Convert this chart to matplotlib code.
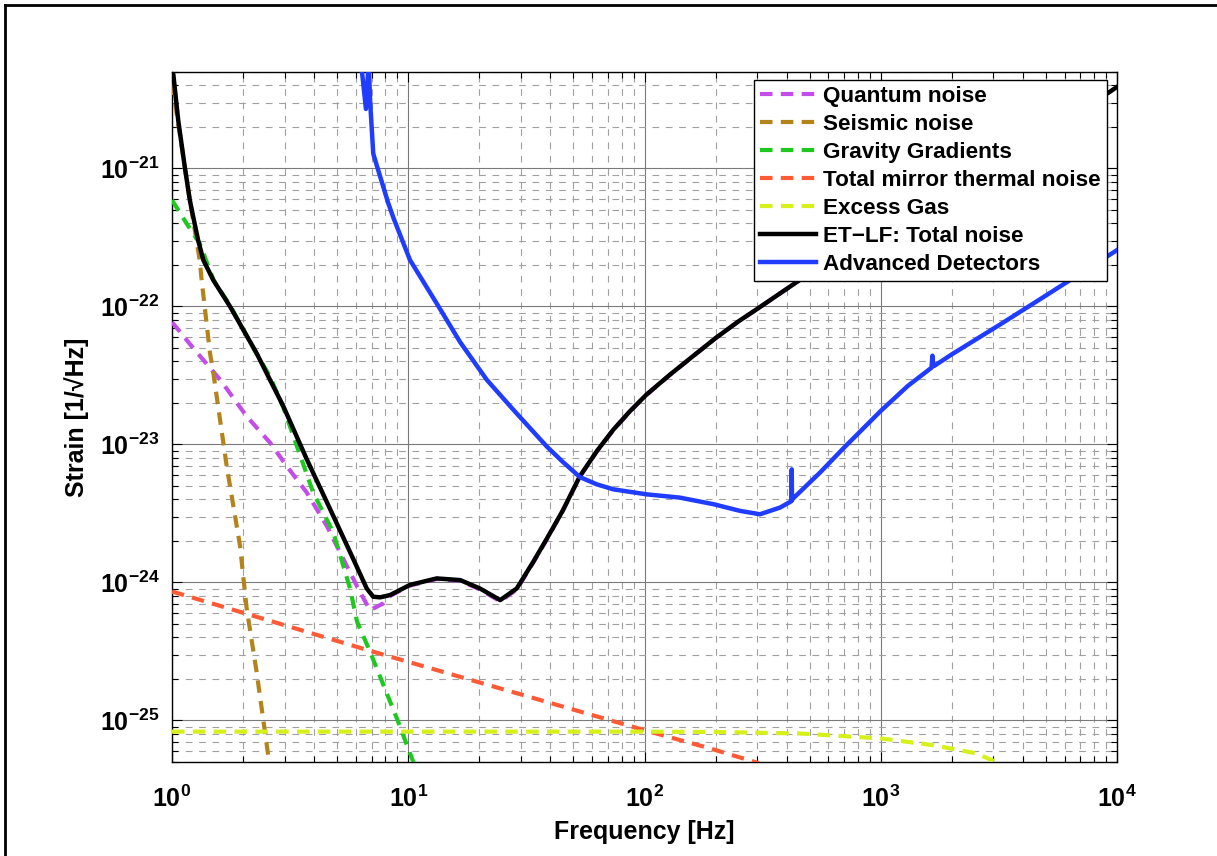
import matplotlib
matplotlib.use("Agg")
import matplotlib.pyplot as plt
from matplotlib.ticker import FixedLocator, FuncFormatter, NullFormatter
from matplotlib.lines import Line2D
import numpy as np

plt.rcParams['font.family'] = ['Liberation Sans', 'DejaVu Sans']
plt.rcParams['font.weight'] = 'bold'
plt.rcParams['mathtext.fontset'] = 'custom'
plt.rcParams['mathtext.rm'] = 'Liberation Sans:bold'
plt.rcParams['mathtext.bf'] = 'Liberation Sans:bold'
plt.rcParams['mathtext.it'] = 'Liberation Sans:bold'

# ---- data ----
total_f = [1.0, 1.013, 1.063, 1.135, 1.19, 1.23, 1.29, 1.357, 1.496, 1.76, 2.28, 2.96, 3.72,
           4.67, 5.85, 6.67, 7.11, 7.6, 8.37,
           10.17, 13.2, 16.6, 20.1, 24.5, 28.8, 33.8, 38.5, 45, 53.3, 63, 73.8, 87, 102, 128,
           160, 200, 250, 300, 500, 1000, 3000, 9340, 10000]
total_h = [5.0e-21, 4.8e-21, 2.22e-21, 1.0e-21, 5.88e-22, 4.46e-22, 3.02e-22, 2.17e-22, 1.55e-22,
           1.0e-22, 4.59e-23, 1.89e-23, 7.8e-24,
           3.4e-24, 1.48e-24, 9.05e-25, 7.88e-25, 7.8e-25, 8.1e-25,
           9.6e-25, 1.07e-24, 1.04e-24, 9.05e-25, 7.45e-25, 9.05e-25, 1.41e-24, 2.06e-24, 3.3e-24,
           5.9e-24, 9.0e-24, 1.28e-23, 1.75e-23, 2.3e-23, 3.2e-23,
           4.35e-23, 5.9e-23, 7.8e-23, 9.6e-23, 1.74e-22, 3.6e-22, 1.1e-21, 3.6e-21, 3.9e-21]

quantum_f = [1.0, 1.23, 1.6, 2.07, 2.6, 3.06, 3.72, 4.52, 5.49, 6.25, 6.89, 7.84, 8.4,
             10.17, 13.2, 16.6, 20.1, 24.5, 28.8, 33.8, 38.5, 45, 53.3, 63, 73.8, 87, 102, 128,
             160, 200, 250, 300, 500, 1000, 3000, 9340, 10000]
quantum_h = [7.7e-23, 4.99e-23, 2.94e-23, 1.6e-23, 1.03e-23, 6.97e-24, 4.48e-24, 2.57e-24, 1.32e-24,
             8.5e-25, 6.3e-25, 7.05e-25, 8.0e-25,
             9.5e-25, 1.06e-24, 1.03e-24, 8.9e-25, 7.3e-25, 8.9e-25, 1.39e-24, 2.04e-24, 3.28e-24,
             5.85e-24, 8.95e-24, 1.27e-23, 1.74e-23, 2.29e-23, 3.19e-23,
             4.34e-23, 5.89e-23, 7.79e-23, 9.59e-23, 1.74e-22, 3.6e-22, 1.1e-21, 3.6e-21, 3.9e-21]

seismic_f = [1.0, 1.19, 1.31, 1.335, 1.448, 1.496, 1.704, 1.94, 2.07, 2.28, 2.557]
seismic_h = [4.2e-21, 5.88e-22, 2.17e-22, 1.55e-22, 4.6e-23, 3.3e-23, 6.97e-24, 1.85e-24,
             6.5e-25, 2.26e-25, 5.5e-26]

gravity_f = [1.0, 1.154, 1.31, 1.5, 1.76, 2.28, 2.6, 2.96, 3.96, 4.82, 5.67, 6.07, 6.88, 8.96, 10.6]
gravity_h = [5.9e-22, 3.98e-22, 2.86e-22, 1.55e-22, 1.02e-22, 4.55e-23, 3.1e-23, 1.85e-23,
             4.48e-24, 2.3e-24, 9.05e-25, 5.2e-25, 3.17e-25, 1.03e-25, 4.8e-26]

thermal_f = [1.0, 6.88, 100, 189, 305]
thermal_h = [8.6e-25, 3.2e-25, 8.5e-26, 6.28e-26, 4.9e-26]

gas_f = [1.0, 100, 200, 455, 1000, 1668, 2547, 3150]
gas_h = [8.3e-26, 8.3e-26, 8.25e-26, 8.05e-26, 7.41e-26, 6.62e-26, 5.77e-26, 4.9e-26]

adv_f = [6.3, 6.62, 6.8, 6.9, 7.11, 7.36, 8.23, 8.65, 10.17, 13.2, 16.6, 21.5, 27.8, 38.5, 45,
         53.3, 62.8, 73.8, 102, 141, 196, 254, 308, 375, 415, 419, 420, 421, 425, 553, 700, 1000,
         1300, 1640, 1655, 1665, 1680, 2000, 3200, 5000, 10000]
adv_h = [6e-21, 2.7e-21, 6e-21, 3.0e-21, 1.28e-21, 1.05e-21, 5.6e-22, 4.4e-22, 2.17e-22, 1.05e-22,
         5.5e-23, 2.94e-23, 1.79e-23, 9.7e-24, 7.5e-24,
         5.8e-24, 5.14e-24, 4.73e-24, 4.35e-24, 4.12e-24, 3.69e-24, 3.3e-24, 3.12e-24, 3.49e-24,
         3.85e-24, 3.9e-24, 6.6e-24, 3.95e-24, 4.05e-24, 6.25e-24, 9.5e-24, 1.75e-23,
         2.65e-23, 3.6e-23, 4.4e-23, 3.7e-23, 3.7e-23, 4.5e-23, 7.4e-23, 1.2e-22, 2.56e-22]

labels = ["Quantum noise", "Seismic noise", "Gravity Gradients", "Total mirror thermal noise",
          "Excess Gas", "ET\u2212LF: Total noise", "Advanced Detectors"]
colors = ["#c24de8", "#b3831c", "#1ec81e", "#ff5a36", "#d6f01a", "#000000", "#1f3cff"]

x_major = [1, 10, 100, 1000, 10000]
y_major = [1e-25, 1e-24, 1e-23, 1e-22, 1e-21]
xlim = (1, 1e4)
ylim = (5e-26, 5e-21)

fig = plt.figure(figsize=(12.17, 8.56), dpi=100)
ax = fig.add_axes([172/1217, 1-762/856, (1117-172)/1217, (762-72)/856])

dash = (3, 2)
lw = 3.0
series = [(quantum_f, quantum_h), (seismic_f, seismic_h), (gravity_f, gravity_h),
          (thermal_f, thermal_h), (gas_f, gas_h)]
handles = []
for (f, h), lab, c in zip(series, labels[:5], colors[:5]):
    ln, = ax.plot(f, h, color=c, lw=lw, dashes=dash, label=lab, zorder=3)
    handles.append(ln)
ln, = ax.plot(total_f, total_h, color=colors[5], lw=3.2, label=labels[5], zorder=4)
handles.append(ln)
ln, = ax.plot(adv_f, adv_h, color=colors[6], lw=3.2, label=labels[6], zorder=4)
handles.append(ln)

ax.set_xscale('log')
ax.set_yscale('log')
ax.set_xlim(*xlim)
ax.set_ylim(*ylim)

x_minor = [m * d for d in x_major[:-1] for m in range(2, 10)]
y_minor = [m * d for d in [1e-26] + y_major for m in range(2, 10) if ylim[0] <= m * d <= ylim[1]]
ax.xaxis.set_major_locator(FixedLocator(x_major))
ax.yaxis.set_major_locator(FixedLocator(y_major))
ax.xaxis.set_minor_locator(FixedLocator(x_minor))
ax.yaxis.set_minor_locator(FixedLocator(y_minor))
fmt = FuncFormatter(lambda v, p: r'$\mathbf{10^{%d}}$' % int(round(np.log10(v))))
ax.xaxis.set_major_formatter(fmt)
ax.yaxis.set_major_formatter(fmt)
ax.xaxis.set_minor_formatter(NullFormatter())
ax.yaxis.set_minor_formatter(NullFormatter())

ax.grid(True, which='major', color='#7a7a7a', lw=0.8, ls='-', zorder=0)
ax.grid(True, which='minor', color='#a0a0a0', lw=0.8, dashes=(6, 6), zorder=0)
ax.set_axisbelow(True)
ax.tick_params(which='both', direction='in', top=True, right=True, labelsize=18)
ax.tick_params(axis='x', which='major', pad=17)
ax.tick_params(axis='y', which='major', pad=9)
ax.tick_params(which='major', length=7, width=0.8)
ax.tick_params(which='minor', length=4, width=0.8)
for s in ax.spines.values():
    s.set_linewidth(1.0)

ax.set_xlabel("Frequency [Hz]", fontsize=18, fontweight='bold', labelpad=6)
ax.set_ylabel("Strain [1/\u221aHz]", fontsize=18, fontweight='bold', labelpad=8)

leg = ax.legend(handles=handles, loc='upper right',
                bbox_to_anchor=((1107-172)/(1117-172), (762-80)/(762-72)),
                fontsize=16.2, frameon=True, fancybox=False, edgecolor='black', framealpha=1,
                handlelength=2.5, handletextpad=0.3, labelspacing=0.31, borderpad=0.28,
                borderaxespad=0)
leg.get_frame().set_linewidth(1.0)
for t in leg.get_texts():
    t.set_fontweight('bold')

# figure frame (top and left edges visible)
fig.add_artist(Line2D([5/1217, 1.0], [1-5/856, 1-5/856], transform=fig.transFigure, color='black', lw=2))
fig.add_artist(Line2D([5/1217, 5/1217], [0, 1-5/856], transform=fig.transFigure, color='black', lw=2))

fig.savefig("out.png", dpi=100)
